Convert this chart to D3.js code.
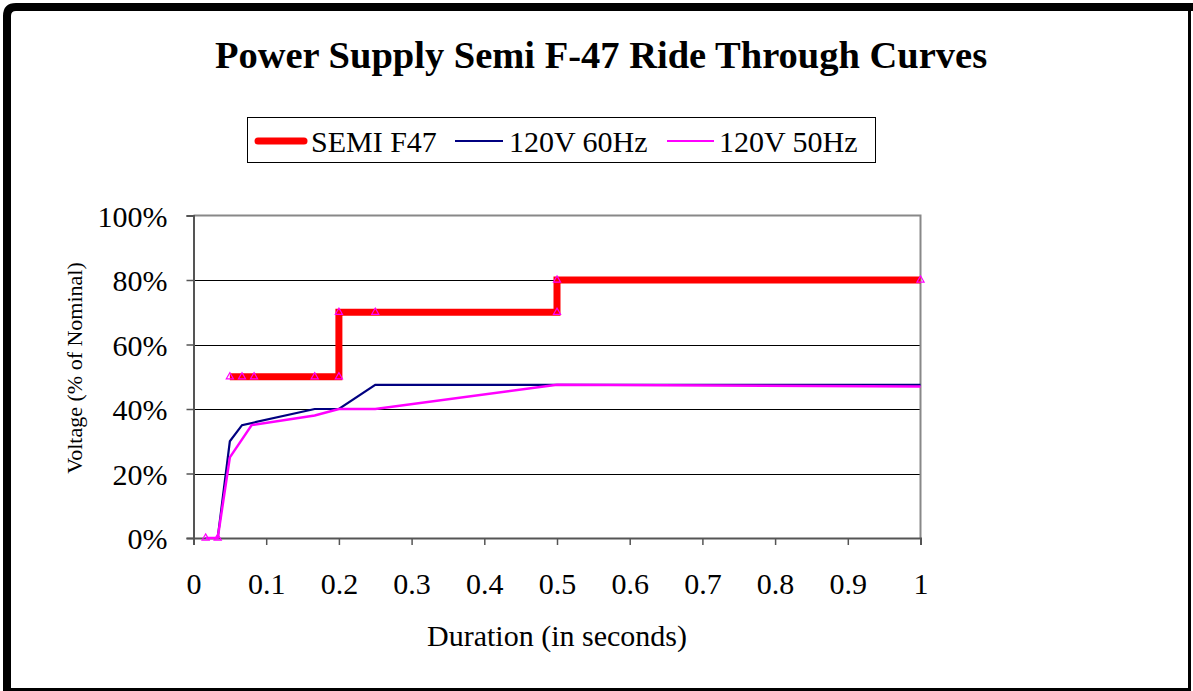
<!DOCTYPE html>
<html>
<head>
<meta charset="utf-8">
<script src="https://cdn.jsdelivr.net/npm/d3@7"></script>
<style>
  html, body { margin: 0; padding: 0; background: #fff; }
  svg { display: block; }
  text { font-family: "Liberation Serif", "Times New Roman", serif; fill: #000; }
</style>
</head>
<body>
<svg id="chart" width="1193" height="691"></svg>
<script>
// ---- data ----
const seriesNames = ["SEMI F47", "120V 60Hz", "120V 50Hz"];
const semiX = [0.05, 0.0667, 0.0833, 0.1667, 0.2, 0.2, 0.25, 0.5, 0.5, 1.0];
const semiY = [50, 50, 50, 50, 50, 70, 70, 70, 80, 80];
const hz60X = [0.0167, 0.0333, 0.05, 0.0667, 0.1667, 0.2, 0.25, 0.5, 1.0];
const hz60Y = [0, 0, 30, 35, 40, 40, 47.5, 47.5, 47.5];
const hz50X = [0.0167, 0.0333, 0.05, 0.08, 0.1667, 0.2, 0.25, 0.5, 1.0];
const hz50Y = [0, 0, 25, 35, 38, 40, 40, 47.5, 47];
const xTicks = [0, 0.1, 0.2, 0.3, 0.4, 0.5, 0.6, 0.7, 0.8, 0.9, 1];
const xTickLabels = ["0", "0.1", "0.2", "0.3", "0.4", "0.5", "0.6", "0.7", "0.8", "0.9", "1"];
const yTicks = [0, 20, 40, 60, 80, 100];
const yTickLabels = ["0%", "20%", "40%", "60%", "80%", "100%"];
const titleText = "Power Supply Semi F-47 Ride Through Curves";
const xTitle = "Duration (in seconds)";
const yTitle = "Voltage (% of Nominal)";

// ---- layout ----
const svg = d3.select("#chart");
const L = 193.5, R = 920.5, T = 215.5, B = 538;
const x = d3.scaleLinear().domain([0, 1]).range([L, R]);
const y = d3.scaleLinear().domain([0, 100]).range([B, T]);

// outer frame
svg.append("path")
  .attr("d", "M7,691 L7,16 Q7,7 16,7 L1193,7")
  .attr("fill", "none").attr("stroke", "#000").attr("stroke-width", 8);
svg.append("line").attr("x1", 1189.5).attr("x2", 1189.5).attr("y1", 7).attr("y2", 691)
  .attr("stroke", "#000").attr("stroke-width", 3);
svg.append("line").attr("x1", 7).attr("x2", 1191).attr("y1", 689.5).attr("y2", 689.5)
  .attr("stroke", "#000").attr("stroke-width", 3);

// title
svg.append("text").attr("x", 601).attr("y", 68).attr("text-anchor", "middle")
  .attr("font-size", 38.5).attr("font-weight", "bold").text(titleText);

// gridlines
svg.append("g").selectAll("line").data(yTicks.filter(d => d > 0 && d < 100)).join("line")
  .attr("x1", L).attr("x2", R).attr("y1", d => Math.round(y(d)) + 0.5).attr("y2", d => Math.round(y(d)) + 0.5)
  .attr("stroke", "#000").attr("stroke-width", 1);

// plot border top/right gray
svg.append("path")
  .attr("d", `M${L},${T} L${R},${T} L${R},${B}`)
  .attr("fill", "none").attr("stroke", "#888").attr("stroke-width", 2);

// y axis
const yAxis = d3.axisLeft(y).tickValues(yTicks).tickFormat((d, i) => yTickLabels[i]).tickSize(7).tickPadding(19);
const gy = svg.append("g").attr("transform", `translate(${L},0)`).call(yAxis);
gy.select(".domain").attr("stroke", "#555").attr("stroke-width", 2);
gy.selectAll(".tick line").attr("stroke", "#555").attr("stroke-width", 1.5);
gy.selectAll(".tick text").attr("font-size", 30).attr("font-family", "Liberation Serif, serif").attr("dy", "0.35em");

// x axis
const xAxis = d3.axisBottom(x).tickValues(xTicks).tickFormat((d, i) => xTickLabels[i]).tickSize(7).tickPadding(28);
const gx = svg.append("g").attr("transform", `translate(0,${B})`).call(xAxis);
gx.select(".domain").attr("stroke", "#555").attr("stroke-width", 2);
gx.selectAll(".tick line").attr("stroke", "#555").attr("stroke-width", 1.5);
gx.selectAll(".tick text").attr("font-size", 30).attr("font-family", "Liberation Serif, serif");

// axis titles
svg.append("text").attr("x", 557).attr("y", 646).attr("text-anchor", "middle")
  .attr("font-size", 30).text(xTitle);
svg.append("text").attr("transform", `translate(82,${368}) rotate(-90)`)
  .attr("text-anchor", "middle").attr("font-size", 22).text(yTitle);

// lines
const line = d3.line().x(d => x(d[0])).y(d => y(d[1]));
const semi = semiX.map((v, i) => [v, semiY[i]]);
const h60 = hz60X.map((v, i) => [v, hz60Y[i]]);
const h50 = hz50X.map((v, i) => [v, hz50Y[i]]);

svg.append("path").datum(semi).attr("d", line).attr("fill", "none")
  .attr("stroke", "#ff0000").attr("stroke-width", 7).attr("stroke-linejoin", "miter");
svg.append("path").datum(h60).attr("d", line).attr("fill", "none")
  .attr("stroke", "#000080").attr("stroke-width", 2.2);
svg.append("path").datum(h50).attr("d", line).attr("fill", "none")
  .attr("stroke", "#ff00ff").attr("stroke-width", 2.5);

// markers (magenta triangles)
const tri = d3.symbol().type(d3.symbolTriangle).size(22);
const markerPts = semi.concat(h50.slice(0, 2));
svg.append("g").selectAll("path").data(markerPts).join("path")
  .attr("d", tri).attr("transform", d => `translate(${x(d[0])},${y(d[1])})`)
  .attr("fill", "none").attr("stroke", "#ff00ff").attr("stroke-width", 1.2);

// legend
const lg = svg.append("g");
lg.append("rect").attr("x", 247.5).attr("y", 117.5).attr("width", 628).attr("height", 45)
  .attr("fill", "#fff").attr("stroke", "#000").attr("stroke-width", 1);
const legendItems = [
  { name: seriesNames[0], color: "#ff0000", w: 7, x1: 258, x2: 304, tx: 311 },
  { name: seriesNames[1], color: "#000080", w: 2, x1: 455, x2: 503, tx: 509 },
  { name: seriesNames[2], color: "#ff00ff", w: 2, x1: 667, x2: 714, tx: 719 }
];
legendItems.forEach(it => {
  lg.append("line").attr("x1", it.x1).attr("x2", it.x2).attr("y1", 141).attr("y2", 141)
    .attr("stroke", it.color).attr("stroke-width", it.w).attr("stroke-linecap", it.w > 3 ? "round" : "butt");
  lg.append("text").attr("x", it.tx).attr("y", 152).attr("font-size", 30).text(it.name);
});
</script>
</body>
</html>
